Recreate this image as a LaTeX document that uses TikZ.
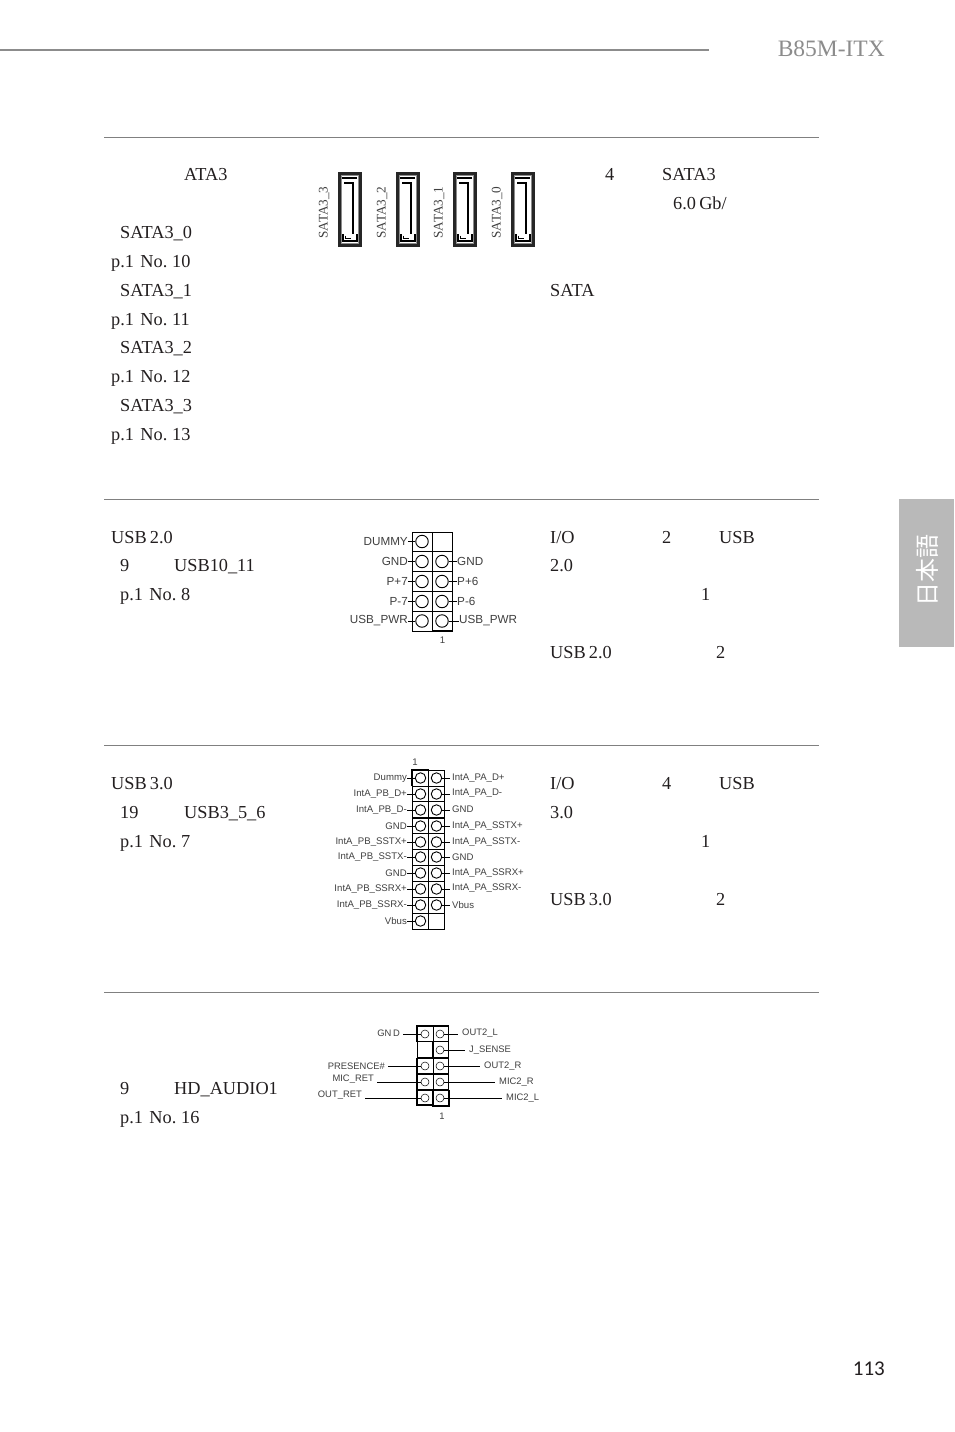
\documentclass[tikz,border=0pt]{standalone}
\usepackage{fontspec}
\setmainfont[WordSpace=0.7]{Liberation Serif}
\setsansfont{Liberation Sans}
\newfontfamily\cjkfont{Noto Sans CJK JP}
\newfontfamily\numfont{Carlito}
\definecolor{txt}{HTML}{231F20}
\definecolor{rulegray}{HTML}{808080}
\definecolor{tabgray}{HTML}{B9B9B9}
\definecolor{headgray}{HTML}{8C8C8C}
\definecolor{labgray}{HTML}{404040}
\tikzset{
  x=1pt,y=-1pt,
  body/.style={anchor=base west,inner sep=0pt,text=txt,font=\fontsize{18.3}{20}\selectfont},
  secrule/.style={draw=rulegray,line width=0.7pt},
  sataname/.style={anchor=base,rotate=90,inner sep=0pt,text=labgray,font=\fontsize{13.2}{15}\selectfont},
  usbtwo/.style={inner sep=0pt,text=labgray,font=\sffamily\fontsize{11.7}{13}\selectfont},
  usbthree/.style={inner sep=0pt,text=labgray,font=\sffamily\fontsize{9.6}{11}\selectfont},
  audio/.style={inner sep=0pt,text=labgray,font=\sffamily\fontsize{9.4}{11}\selectfont},
  pintwo/.style={circle,draw=black,line width=0.9pt,minimum size=12.5pt,inner sep=0pt},
  pinthree/.style={circle,draw=black,line width=0.9pt,minimum size=10.5pt,inner sep=0pt},
  pinaud/.style={circle,draw=black,line width=0.5pt,minimum size=8pt,inner sep=0pt},
  leader/.style={draw=black,line width=0.7pt},
  cell/.style={draw=black,line width=0.8pt},
  heavy/.style={draw=black,line width=1.6pt},
  satalw/.style={draw=black,line width=1.5pt},
}
\begin{document}
\begin{tikzpicture}
\useasboundingbox (0,0) rectangle (954,1432);
\fill[white] (0,0) rectangle (954,1432);
% page furniture
\coordinate (hl) at (0,50); \coordinate (hr) at (709,50);
\draw[draw=headgray,line width=1.6pt] (hl) -- (hr);
\node[anchor=base east,inner sep=0pt,text=headgray,font=\fontsize{23.5}{26}\selectfont] (title) at (885,56.5) {B85M-ITX};
\fill[tabgray] (899,499) rectangle (954,647);
\node[rotate=90,inner sep=0pt,text=white,font=\cjkfont\fontsize{24}{26}\selectfont] (lang) at (927,570) {日本語};
\node[anchor=base east,inner sep=0pt,text=txt,font=\numfont\fontsize{21}{24}\selectfont] (page) at (885,1375) {113};
\foreach \yy in {137,499,745,992} \draw[secrule] (104,\yy) -- (819,\yy);
% body text
\foreach \xx/\yy/\tt in {184/180/ATA3,120/238/SATA3\_0,111/267/p.1\ \ No. 10,120/296/SATA3\_1,111/325/p.1\ \ No. 11,120/353/SATA3\_2,111/382/p.1\ \ No. 12,120/411/SATA3\_3,111/440/p.1\ \ No. 13,
605/180/4,662/180/SATA3,673/209/{6.0 Gb/},550/296/SATA,
111/543/USB 2.0,120/571/9,174/571/USB10\_11,120/600/p.1\ \ No. 8,
550/543/{I/O},662/543/2,719/543/USB,550/571/2.0,701/600/1,550/658/USB 2.0,716/658/2,
111/789/USB 3.0,120/818/19,184/818/USB3\_5\_6,120/847/p.1\ \ No. 7,
550/789/{I/O},662/789/4,719/789/USB,550/818/3.0,701/847/1,550/905/USB 3.0,716/905/2,
120/1094/9,174/1094/HD\_AUDIO1,120/1123/p.1\ \ No. 16}
  \node[body] at (\xx,\yy) {\tt};
% SATA connectors
\foreach \xx/\nm in {338/3,396/2,453/1,511/0}{
  \begin{scope}[shift={(\xx,172)}]
    \draw[draw=black!85,line width=2.6pt] (1.3,1.3) rectangle (22.2,73.7);
    \draw[draw=black!45,line width=0.5pt] (3.5,3.5) rectangle (20,71.5);
    \draw[satalw,line width=1.6pt] (4,6) -- (19,6);
    \draw[satalw,line width=2pt] (6,11) -- (15,11) -- (15,62);
    \draw[satalw,line width=1.6pt] (5,62) -- (5,69) -- (19,69) -- (19,62);
    \draw[satalw,line width=0.8pt] (7,63.5) -- (7,66.5) -- (13,66.5);
  \end{scope}
  \node[sataname] (sata\nm) at (\xx-10.5,212.5) {SATA3\_\nm};
}
% USB 2.0 header
\foreach \r in {0,...,4}{
  \draw[cell] (412,532+19.8*\r) rectangle (432,532+19.8*\r+19.8);
  \draw[cell] (432,532+19.8*\r) rectangle (452,532+19.8*\r+19.8);
}
\draw[heavy] (433,631) -- (452.5,631) -- (452.5,611);
\foreach \yy/\lt/\n in {541.5/DUMMY/0,561.5/GND/1,581.5/P+7/2,601.5/P-7/3,621/USB\_PWR/4}{
  \node[pintwo] (ul\n) at (422,\yy) {};
  \node[usbtwo,anchor=east] (ult\n) at (408,\yy) {\lt};
  \draw[leader] (ul\n.west) -- (ult\n.east |- ul\n.west);
}
\foreach \yy/\rt/\n/\xr in {561.5/GND/1/457,581.5/P+6/2/457,601.5/P-6/3/457,621/USB\_PWR/4/459}{
  \node[pintwo] (ur\n) at (442,\yy) {};
  \node[usbtwo,anchor=west] (urt\n) at (\xr,\yy) {\rt};
  \draw[leader] (ur\n.east) -- (urt\n.west |- ur\n.east);
}
\node[usbthree] (one2) at (442.5,640) {1};
% USB 3.0 header
\foreach \r in {0,...,9}{
  \draw[cell] (412,770+15.9*\r) rectangle (428.5,770+15.9*\r+15.9);
  \draw[cell] (428.5,770+15.9*\r) rectangle (444,770+15.9*\r+15.9);
}
\draw[heavy] (412,786) -- (412,770) -- (428.5,770);
\draw[heavy] (412,818) -- (444,818);
\foreach \yy/\lt/\n in {778/Dummy/0,794/IntA\_PB\_D+/1,810/IntA\_PB\_D-/2,826/GND/3,842/IntA\_PB\_SSTX+/4,857/IntA\_PB\_SSTX-/5,873/GND/6,889/IntA\_PB\_SSRX+/7,905/IntA\_PB\_SSRX-/8,921/Vbus/9}{
  \node[pinthree] (tl\n) at (420.5,\yy) {};
  \node[usbthree,anchor=east] (tlt\n) at (407,\yy) {\lt};
  \draw[leader] (tl\n.west) -- (tlt\n.east |- tl\n.west);
}
\foreach \yy/\rt/\n/\tyy in {778/IntA\_PA\_D+/0/778,794/IntA\_PA\_D-/1/793,810/GND/2/809,826/IntA\_PA\_SSTX+/3/826,842/IntA\_PA\_SSTX-/4/842,857/GND/5/857,873/IntA\_PA\_SSRX+/6/873,889/IntA\_PA\_SSRX-/7/888,905/Vbus/8/905}{
  \node[pinthree] (tr\n) at (436.5,\yy) {};
  \node[usbthree,anchor=west] (trt\n) at (452,\tyy) {\rt};
  \coordinate (trc\n) at (450,\yy);
  \draw[leader] (tr\n.east) -- (trc\n);
}
\node[usbthree] (one3) at (415,762) {1};
% HD audio header
\foreach \r in {0,...,4}{
  \draw[cell] (417,1026+15.8*\r) rectangle (433,1026+15.8*\r+15.8);
  \draw[cell] (433,1026+15.8*\r) rectangle (448.5,1026+15.8*\r+15.8);
}
\draw[heavy] (417,1042) -- (417,1026) -- (448.5,1026) -- (448.5,1042);
\draw[heavy] (417,1058) -- (448.5,1058) -- (448.5,1090);
\draw[heavy] (433,1042) -- (433,1058);
\draw[heavy] (417,1058) -- (417,1105) -- (433,1105);
\draw[heavy] (417,1074) -- (448.5,1074);
\draw[heavy] (417,1090) -- (448.5,1090);
\draw[heavy,line width=2pt] (433,1090) -- (433,1106) -- (449,1106) -- (449,1090);
\foreach \yy/\lt/\n/\xe/\tyy in {1034/GN\,D/0/400/1033,1066/PRESENCE\#/2/385/1066,1082/MIC\_RET/3/374/1079.5,1098/OUT\_RET/4/362/1095.5}{
  \node[pinaud] (al\n) at (425,\yy) {};
  \node[audio,anchor=east] (alt\n) at (\xe,\tyy) {\lt};
  \coordinate (alc\n) at (\xe+3,\yy);
  \draw[leader] (alc\n) -- (al\n.west);
}
\foreach \yy/\rt/\n/\xs/\tyy in {1034/OUT2\_L/0/462/1033,1050/J\_SENSE/1/469/1050.5,1066/OUT2\_R/2/484/1066.5,1082/MIC2\_R/3/499/1082.5,1098/MIC2\_L/4/506/1098.5}{
  \node[pinaud] (ar\n) at (440,\yy) {};
  \node[audio,anchor=west] (art\n) at (\xs,\tyy) {\rt};
  \coordinate (arc\n) at (\xs-4,\yy);
  \draw[leader] (ar\n.east) -- (arc\n);
}
\node[audio] (one4) at (442,1116) {1};
\end{tikzpicture}
\end{document}
